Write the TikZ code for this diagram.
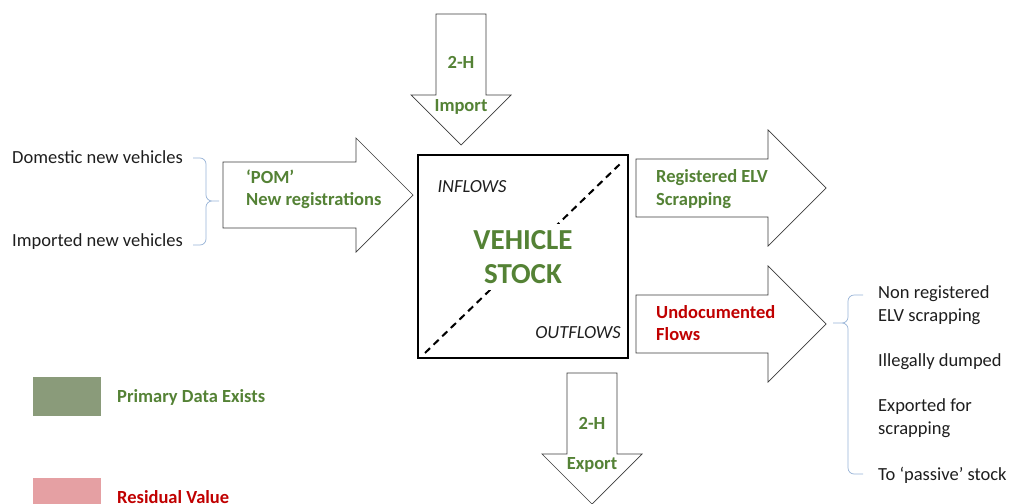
\documentclass[tikz,border=0pt]{standalone}
\usepackage{fontspec}
\setmainfont{Carlito}
\definecolor{data_green}{RGB}{84, 130, 53}
\definecolor{resid_red}{RGB}{192, 0, 0}
\definecolor{arrow_line}{RGB}{60, 60, 60}
\definecolor{brace_blue}{RGB}{150, 178, 214}
\definecolor{legend_green}{RGB}{138, 155, 122}
\definecolor{legend_pink}{RGB}{229, 160, 163}
\definecolor{text_dark}{RGB}{30, 30, 30}

\begin{document}
\begin{tikzpicture}[x=1pt, y=-1pt,
  flow/.style={draw=arrow_line, fill=white, line width=0.7pt},
  flowtext/.style={font=\fontsize{18.5}{22.5}\selectfont\bfseries, align=left, inner sep=0pt},
  plain/.style={font=\fontsize{18.5}{23}\selectfont, text=text_dark, align=left, inner sep=0pt, anchor=west},
  curly/.style={draw=brace_blue, line width=0.7pt, rounded corners=6pt}]
\useasboundingbox (0,0) rectangle (1011,503);
\clip (0,0) rectangle (1011,503);

% flows in
\draw[flow] (436,14) -- (486,14) -- (486,95) -- (511,95) -- (461,145) -- (411,95) -- (436,95) -- cycle;
\draw[flow] (223,162) -- (356,162) -- (356,138) -- (413,195) -- (356,252) -- (356,228) -- (223,228) -- cycle;
% flows out
\foreach \yc in {188, 324}
  \draw[flow] (636,\yc-29) -- (768,\yc-29) -- (768,\yc-58) -- (826,\yc)
    -- (768,\yc+58) -- (768,\yc+29) -- (636,\yc+29) -- cycle;
\draw[flow] (567,373) -- (617,373) -- (617,454) -- (642,454) -- (592,504) -- (542,454) -- (567,454) -- cycle;

\node[flowtext, text=data_green] (imp2h) at (461,62) {2-H};
\node[flowtext, text=data_green] (imp) at (461,107) {Import};
\node[flowtext, text=data_green, anchor=west] (pom) at (246,189) {‘POM’\\New registrations};
\node[flowtext, text=data_green, anchor=west] (reg) at (656,189) {Registered ELV\\Scrapping};
\node[flowtext, text=resid_red, anchor=west] (undoc) at (656,323) {Undocumented\\Flows};
\node[flowtext, text=data_green] (exp2h) at (592,423) {2-H};
\node[flowtext, text=data_green] (exp) at (592,465) {Export};

% stock box
\draw[line width=2pt] (418,155) rectangle (628,358);
\draw[line width=2pt, dash pattern=on 7pt off 5pt] (425,353) -- (621,163);
\node[fill=white, inner sep=6pt, align=center, text=data_green,
  font=\fontsize{29}{34}\selectfont\bfseries] (stock) at (523,257) {VEHICLE\\STOCK};
\node[plain, anchor=center, font=\fontsize{18.5}{22}\selectfont\itshape] (infl) at (472,187) {INFLOWS};
\node[plain, anchor=center, font=\fontsize{18.5}{22}\selectfont\itshape] (outfl) at (578,333) {OUTFLOWS};

% sources
\node[plain] (dom) at (12,157) {Domestic new vehicles};
\node[plain] (impv) at (12,242) {Imported new vehicles};
\coordinate (ltop) at (193,158);
\coordinate (lbot) at (193,245);
\coordinate (lmid) at (206,201);
\coordinate (ltip) at (219,201);
\draw[curly] (ltop) -| (lmid) -- (ltip) (lbot) -| (lmid) -- (ltip);

% sinks
\node[plain] (nonreg) at (878,305) {Non registered\\ELV scrapping};
\node[plain] (dump) at (878,362) {Illegally dumped};
\node[plain] (exfor) at (878,418) {Exported for\\scrapping};
\node[plain] (passive) at (878,475) {To ‘passive’ stock};
\coordinate (rtop) at (863,295);
\coordinate (rbot) at (863,474);
\coordinate (rmid) at (848,323);
\coordinate (rtip) at (833,323);
\draw[curly] (rtop) -| (rmid) -- (rtip) (rbot) -| (rmid) -- (rtip);

% legend
\fill[legend_green] (33,377) rectangle (101,416);
\node[flowtext, text=data_green, anchor=west] (prim) at (117,397) {Primary Data Exists};
\fill[legend_pink] (33,478) rectangle (101,530);
\node[flowtext, text=resid_red, anchor=west] (resid) at (117,497) {Residual Value};
\end{tikzpicture}
\end{document}
